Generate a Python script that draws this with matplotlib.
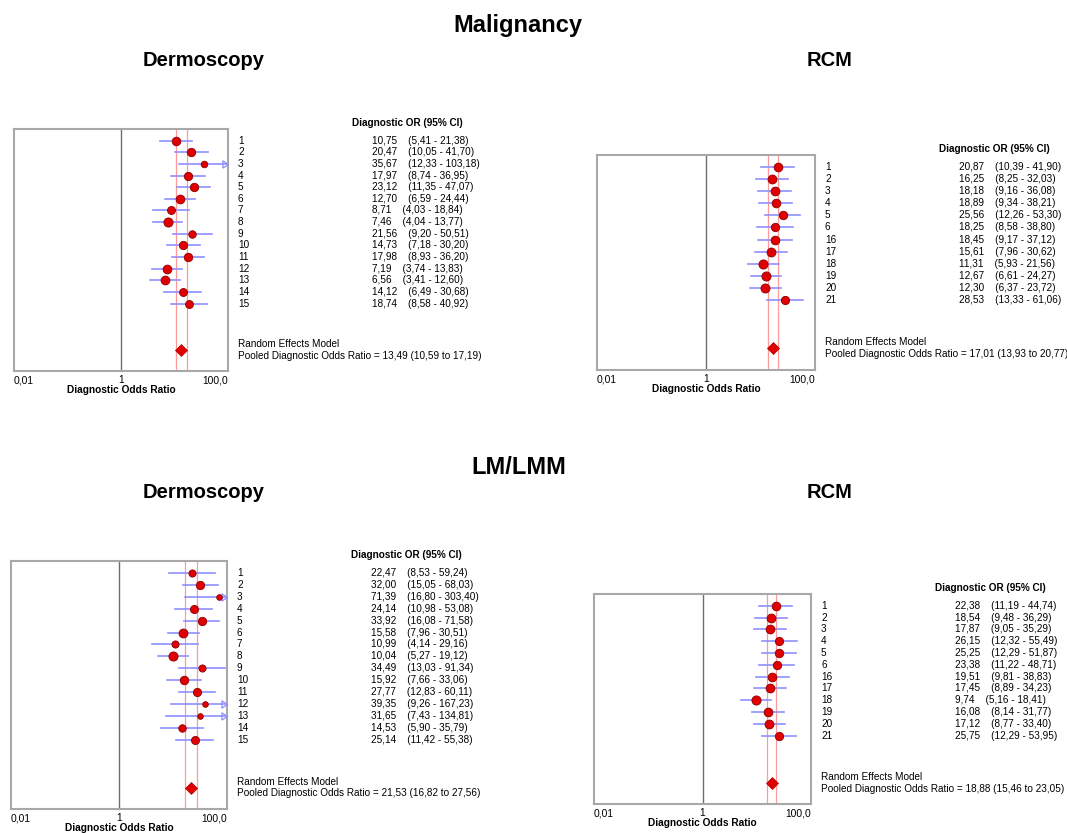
import matplotlib
matplotlib.use("Agg")
import matplotlib.pyplot as plt
import numpy as np

plt.rcParams['font.family'] = ['Liberation Sans', 'DejaVu Sans']

W, H = 1067, 833

# Malignancy - Dermoscopy
derm_mal_ids = [str(i) for i in range(1, 16)]
derm_mal_or = [10.75, 20.47, 35.67, 17.97, 23.12, 12.70, 8.71, 7.46, 21.56, 14.73, 17.98, 7.19, 6.56, 14.12, 18.74]
derm_mal_lo = [5.41, 10.05, 12.33, 8.74, 11.35, 6.59, 4.03, 4.04, 9.20, 7.18, 8.93, 3.74, 3.41, 6.49, 8.58]
derm_mal_hi = [21.38, 41.70, 103.18, 36.95, 47.07, 24.44, 18.84, 13.77, 50.51, 30.20, 36.20, 13.83, 12.60, 30.68, 40.92]
derm_mal_pooled = [13.49, 10.59, 17.19]

# Malignancy - RCM
rcm_mal_ids = ['1', '2', '3', '4', '5', '6', '16', '17', '18', '19', '20', '21']
rcm_mal_or = [20.87, 16.25, 18.18, 18.89, 25.56, 18.25, 18.45, 15.61, 11.31, 12.67, 12.30, 28.53]
rcm_mal_lo = [10.39, 8.25, 9.16, 9.34, 12.26, 8.58, 9.17, 7.96, 5.93, 6.61, 6.37, 13.33]
rcm_mal_hi = [41.90, 32.03, 36.08, 38.21, 53.30, 38.80, 37.12, 30.62, 21.56, 24.27, 23.72, 61.06]
rcm_mal_pooled = [17.01, 13.93, 20.77]

# LM/LMM - Dermoscopy
derm_lm_ids = [str(i) for i in range(1, 16)]
derm_lm_or = [22.47, 32.00, 71.39, 24.14, 33.92, 15.58, 10.99, 10.04, 34.49, 15.92, 27.77, 39.35, 31.65, 14.53, 25.14]
derm_lm_lo = [8.53, 15.05, 16.80, 10.98, 16.08, 7.96, 4.14, 5.27, 13.03, 7.66, 12.83, 9.26, 7.43, 5.90, 11.42]
derm_lm_hi = [59.24, 68.03, 303.40, 53.08, 71.58, 30.51, 29.16, 19.12, 91.34, 33.06, 60.11, 167.23, 134.81, 35.79, 55.38]
derm_lm_pooled = [21.53, 16.82, 27.56]

# LM/LMM - RCM
rcm_lm_ids = ['1', '2', '3', '4', '5', '6', '16', '17', '18', '19', '20', '21']
rcm_lm_or = [22.38, 18.54, 17.87, 26.15, 25.25, 23.38, 19.51, 17.45, 9.74, 16.08, 17.12, 25.75]
rcm_lm_lo = [11.19, 9.48, 9.05, 12.32, 12.29, 11.22, 9.81, 8.89, 5.16, 8.14, 8.77, 12.29]
rcm_lm_hi = [44.74, 36.29, 35.29, 55.49, 51.87, 48.71, 38.83, 34.23, 18.41, 31.77, 33.40, 53.95]
rcm_lm_pooled = [18.88, 15.46, 23.05]


def fmt(v):
    return f"{v:.2f}".replace('.', ',')


def forest(box, ids, ors, los, his, pooled):
    # box = left, top, right, bottom in pixels
    l, t, r, b = box
    ax = fig.add_axes([l / W, 1 - b / H, (r - l) / W, (b - t) / H])
    n = len(ids)
    rows = np.arange(1, n + 1)
    ors, los, his = np.array(ors), np.array(los), np.array(his)

    ax.set_xscale('log')
    ax.set_xlim(0.01, 100)
    ax.set_ylim(n + 5.8, 0)

    # pooled CI lines and null line
    ax.axvline(pooled[1], color='#ff9a9a', lw=0.9)
    ax.axvline(pooled[2], color='#ff9a9a', lw=0.9)
    ax.axvline(1, color='#6e6e6e', lw=1.0)

    # study weights for marker size
    se = np.log(his / los) / 3.92
    w = 1 / se ** 2
    ms = 6.6 * (w / w.max()) ** 0.3

    arrow = [(-2, -1.3), (0, 0), (-2, 1.3), (-2, -1.3)]
    for y, o, lo, hi, m in zip(rows, ors, los, his, ms):
        ax.plot([lo, min(hi, 100)], [y, y], color='#8f8fff', lw=1.2, zorder=2)
        if hi > 100:
            ax.plot([100], [y], marker=arrow, ms=8, mfc='none', mec='#8f8fff',
                    mew=0.9, clip_on=False, zorder=3)
        ax.plot([o], [y], 'o', ms=m, mfc='#e00000', mec='#8a0000', mew=0.6, zorder=4)

    ax.plot([pooled[0]], [n + 4], 'D', ms=6, mfc='#e00000', mec='#b00000', mew=0.5, zorder=4)

    for s in ax.spines.values():
        s.set_color('#a8a8a8')
        s.set_linewidth(1.5)
    ax.set_yticks([])
    ax.minorticks_off()
    ax.set_xticks([0.01, 1, 100])
    ax.set_xticklabels(['0,01', '1', '100,0'], fontsize=7.4)
    labs = ax.get_xticklabels()
    labs[0].set_ha('left')
    labs[2].set_ha('right')
    ax.tick_params(axis='x', length=0, pad=3)
    ax.set_xlabel('Diagnostic Odds Ratio', fontsize=7.3, fontweight='bold', labelpad=0)

    def note(txt, y, dx, **kw):
        ax.annotate(txt, xy=(1, y), xycoords=('axes fraction', 'data'),
                    xytext=(dx, 0), textcoords='offset pixels', va='center',
                    ha='left', fontsize=7.2, annotation_clip=False, **kw)

    note('Diagnostic OR (95% CI)', -0.5, 124, fontweight='bold')
    for y, lab, o, lo, hi in zip(rows, ids, ors, los, his):
        note(lab, y, 10)
        note(f"{fmt(o)}    ({fmt(lo)} - {fmt(hi)})", y, 144)
    note('Random Effects Model', n + 3.5, 10)
    note(f"Pooled Diagnostic Odds Ratio = {fmt(pooled[0])} ({fmt(pooled[1])} to {fmt(pooled[2])})",
         n + 4.5, 10)
    return ax


fig = plt.figure(figsize=(W / 100, H / 100), dpi=100)

forest((14, 129, 228, 371), derm_mal_ids, derm_mal_or, derm_mal_lo, derm_mal_hi, derm_mal_pooled)
forest((597, 155, 815, 370), rcm_mal_ids, rcm_mal_or, rcm_mal_lo, rcm_mal_hi, rcm_mal_pooled)
forest((11, 561, 227, 809), derm_lm_ids, derm_lm_or, derm_lm_lo, derm_lm_hi, derm_lm_pooled)
forest((594, 594, 811, 804), rcm_lm_ids, rcm_lm_or, rcm_lm_lo, rcm_lm_hi, rcm_lm_pooled)


def title(txt, x, y, size):
    fig.text(x / W, 1 - y / H, txt, ha='center', va='baseline', fontsize=size, fontweight='bold')


title('Malignancy', 518, 32, 17)
title('Dermoscopy', 204, 66, 14.5)
title('RCM', 830, 66, 14.5)
title('LM/LMM', 519, 474, 17)
title('Dermoscopy', 204, 498, 14.5)
title('RCM', 830, 498, 14.5)

fig.savefig('out.png', dpi=100, facecolor='white')
